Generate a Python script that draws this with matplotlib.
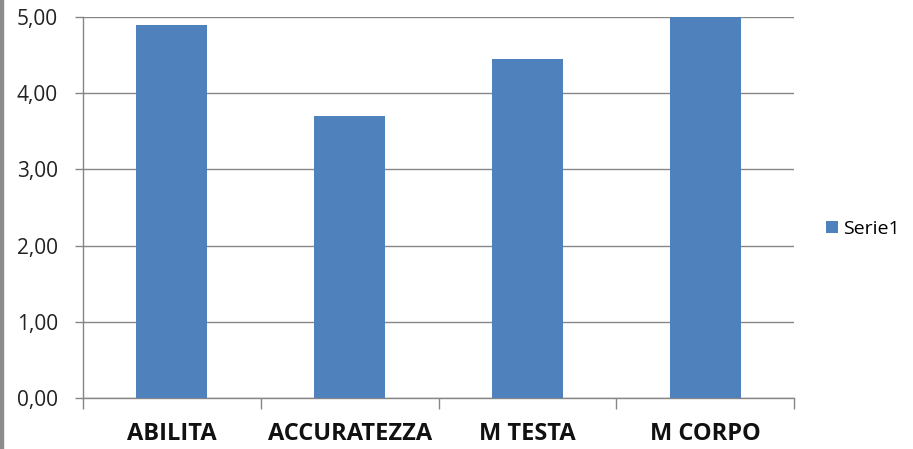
import matplotlib.pyplot as plt
from matplotlib.patches import Rectangle
import numpy as np

categorie = ['ABILITA', 'ACCURATEZZA', 'M TESTA', 'M CORPO']
serie1 = [4.9, 3.7, 4.45, 5.0]
yticks = [0, 1, 2, 3, 4, 5]
ytick_labels = ['0,00', '1,00', '2,00', '3,00', '4,00', '5,00']

plt.rcParams['font.family'] = ['Open Sans', 'DejaVu Sans']

fig = plt.figure(figsize=(9.13, 4.49), dpi=100)
ax = fig.add_axes([0.0909, 0.1136, 0.8697 - 0.0909, 0.9621 - 0.1136])

x = np.arange(len(categorie))
ax.bar(x, serie1, width=0.4, color='#4F81BD', label='Serie1', zorder=3)

ax.set_xlim(-0.5, len(categorie) - 0.5)
ax.set_ylim(0, 5)
ax.set_yticks(yticks)
ax.set_yticklabels(ytick_labels, fontsize=15, color='#222222')
ax.yaxis.grid(True, color='#868686', linewidth=1, zorder=0)

# tick marks on category borders, labels in the middle
ax.set_xticks(np.arange(-0.5, len(categorie)), minor=False)
ax.set_xticklabels([''] * (len(categorie) + 1))
ax.set_xticks(x, minor=True)
ax.set_xticklabels(categorie, minor=True, fontsize=17, fontweight='bold', color='#111111')
ax.tick_params(axis='x', which='major', length=8, color='#868686', width=1)
ax.tick_params(axis='x', which='minor', length=0, pad=17)
ax.tick_params(axis='y', length=6, color='#868686', width=1, pad=12)

for side in ['top', 'right']:
    ax.spines[side].set_visible(False)
for side in ['left', 'bottom']:
    ax.spines[side].set_color('#868686')
    ax.spines[side].set_linewidth(1)

leg = fig.legend(loc='center left', bbox_to_anchor=(0.89, 0.49), frameon=False,
                 fontsize=14, handlelength=0.6, handleheight=0.6, handletextpad=0.25,
                 borderpad=0.2)

# bordo grigio a sinistra
fig.patches.append(Rectangle((0, 0), 3 / 913, 1, transform=fig.transFigure,
                             color='#8c8c8c', zorder=0))

fig.savefig('out.png', dpi=100)
